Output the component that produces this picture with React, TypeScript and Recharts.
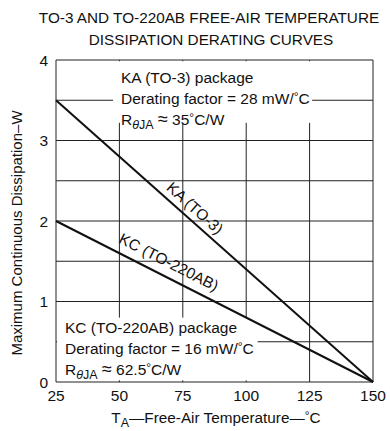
import React from 'react';
import { LineChart, Line, XAxis, YAxis, CartesianGrid, ReferenceArea, Customized } from 'recharts';

const temps = [25, 150];
const kaPower = [3.5, 0];
const kcPower = [2.0, 0];
const xTicks = [25, 50, 75, 100, 125, 150];
const yTicks = [0, 0.5, 1, 1.5, 2, 2.5, 3, 3.5, 4];

const data = temps.map((t, i) => ({ t, ka: kaPower[i], kc: kcPower[i] }));

const FONT = '"Liberation Sans", Arial, Helvetica, sans-serif';
const INK = '#111';
const FS = 15.5;

const Rtheta = ({ x, y, value }: { x: number; y: number; value: string }) => (
  <text x={x} y={y} fontSize={FS} fill={INK} fontFamily={FONT}>
    R
    <tspan dy={4} fontSize={12.5} fontStyle="italic">θ</tspan>
    <tspan fontSize={12.5}>JA</tspan>
    <tspan dy={-4}>{' '}</tspan>
    <tspan fontSize={18}>≈</tspan>
    <tspan>{' ' + value}</tspan>
    <tspan dy={-3} fontSize={12}>°</tspan>
    <tspan dy={3}>C/W</tspan>
  </text>
);

const Factor = ({ x, y, value }: { x: number; y: number; value: string }) => (
  <text x={x} y={y} fontSize={FS} fill={INK} fontFamily={FONT}>
    {'Derating factor = ' + value + ' mW/'}
    <tspan dy={-3} fontSize={12}>°</tspan>
    <tspan dy={3}>C</tspan>
  </text>
);

const TopNote = (p: any) => (
  <g fontFamily={FONT} fill={INK}>
    <rect x={p.x} y={p.y} width={p.width} height={p.height} fill="#fff" stroke="none" />
    <text x={121} y={83} fontSize={FS}>KA (TO-3) package</text>
    <Factor x={121} y={104} value="28" />
    <Rtheta x={121} y={125} value="35" />
  </g>
);

const BottomNote = (p: any) => (
  <g fontFamily={FONT} fill={INK}>
    <rect x={p.x} y={p.y} width={p.width} height={p.height} fill="#fff" stroke="none" />
    <text x={65} y={333} fontSize={FS}>KC (TO-220AB) package</text>
    <Factor x={65} y={354} value="16" />
    <Rtheta x={65} y={375} value="62.5" />
  </g>
);

const Overlay = () => (
  <g fontFamily={FONT} fill={INK}>
    <text x={209} y={23} textAnchor="middle" fontSize={15.3}>TO-3 AND TO-220AB FREE-AIR TEMPERATURE</text>
    <text x={211} y={45} textAnchor="middle" fontSize={15.3}>DISSIPATION DERATING CURVES</text>
    <text transform="translate(22,233) rotate(-90)" textAnchor="middle" fontSize={15}>
      Maximum Continuous Dissipation–W
    </text>
    <text x={216} y={423} textAnchor="middle" fontSize={15.3}>
      T<tspan dy={4} fontSize={12.5}>A</tspan>
      <tspan dy={-4}>—Free-Air Temperature—</tspan>
      <tspan dy={-3} fontSize={12}>°</tspan>
      <tspan dy={3}>C</tspan>
    </text>
    <text
      transform="translate(195,208) rotate(41.7)"
      textAnchor="middle"
      dominantBaseline="central"
      fontSize={FS}
    >
      KA (TO-3)
    </text>
    <text
      transform="translate(169,262) rotate(26.9)"
      textAnchor="middle"
      dominantBaseline="central"
      fontSize={FS}
    >
      KC (TO-220AB)
    </text>
  </g>
);

export default function App() {
  return (
    <div style={{ position: 'absolute', left: 0, top: 0, width: 390, height: 431, background: '#fff' }}>
      <LineChart width={390} height={431} data={data} margin={{ top: 60, right: 17, bottom: 19, left: 0 }}>
        <CartesianGrid stroke="#222" strokeWidth={1} />
        <XAxis
          dataKey="t"
          type="number"
          domain={[25, 150]}
          ticks={xTicks}
          interval={0}
          tickLine={false}
          axisLine={false}
          height={30}
          tick={{ fontSize: 15.5, fill: INK, fontFamily: FONT }}
        />
        <YAxis
          type="number"
          domain={[0, 4]}
          ticks={yTicks}
          interval={0}
          tickFormatter={(v: number) => (Number.isInteger(v) ? String(v) : '')}
          tickLine={false}
          axisLine={false}
          width={56}
          tick={{ fontSize: 15.5, fill: INK, fontFamily: FONT }}
        />
        <ReferenceArea x1={47.5} x2={126} y1={3.22} y2={3.985} shape={TopNote} />
        <ReferenceArea x1={25.4} x2={104.5} y1={0.02} y2={0.8} shape={BottomNote} />
        <Line type="linear" dataKey="ka" stroke={INK} strokeWidth={2} dot={false} isAnimationActive={false} />
        <Line type="linear" dataKey="kc" stroke={INK} strokeWidth={2} dot={false} isAnimationActive={false} />
        <Customized component={Overlay} />
      </LineChart>
    </div>
  );
}
